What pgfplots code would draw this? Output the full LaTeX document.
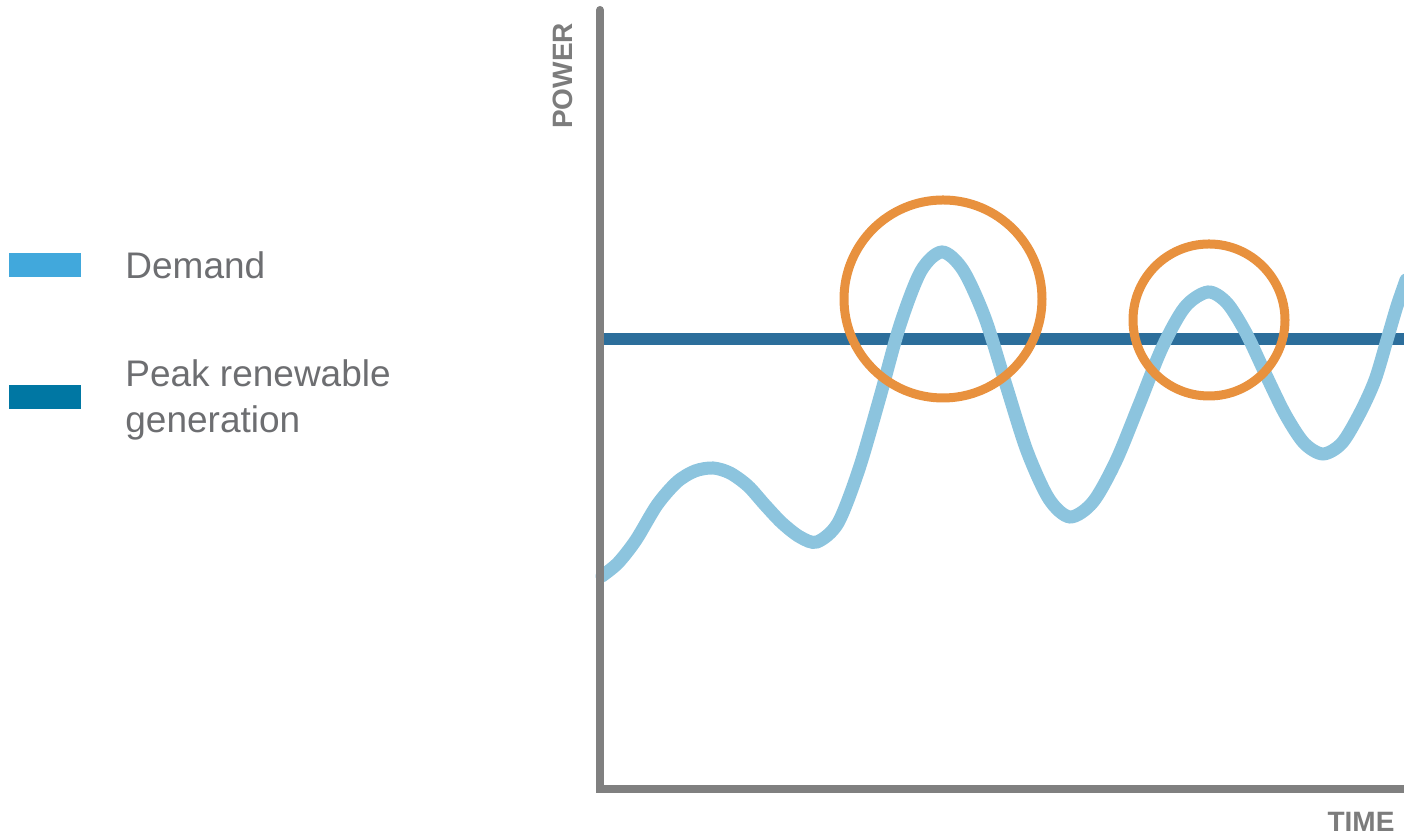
\documentclass[border=0pt]{standalone}
\usepackage{pgfplots}
\pgfplotsset{compat=1.18}
\usepackage{fontspec}
\setmainfont{Liberation Sans}

\definecolor{demandline}{HTML}{8CC4DE}
\definecolor{peakline}{HTML}{2C6E9B}
\definecolor{ringorange}{HTML}{E8913E}
\definecolor{axisgray}{HTML}{808080}
\definecolor{keylight}{HTML}{41A8DC}
\definecolor{keydark}{HTML}{0077A3}
\definecolor{textgray}{HTML}{6D6E71}
\definecolor{labelgray}{HTML}{7C7C7C}

\begin{document}
\begin{tikzpicture}
\begin{axis}[
    scale only axis,
    width=702pt,
    height=419pt,
    xmin=0, xmax=1404,
    ymin=0, ymax=838,
    hide axis,
]

% Peak renewable generation (flat)
\addplot[peakline, line width=6pt, no marks] coordinates {(604,499) (1404,499)};

% Demand
\addplot[demandline, line width=6.5pt, no marks, smooth, tension=0.5, line cap=round] coordinates {
    (602,262) (618,275) (636,298) (657,333) (677,356) (695,367) (713,370)
    (730,365) (748,352) (765,333) (782,315) (800,301) (817,296)
    (838,315) (859,369) (880,441) (900,513) (921,567) (942,586)
    (963,568) (985,520) (1006,453) (1027,387) (1049,339) (1070,321)
    (1093,336) (1116,377) (1139,433) (1162,490) (1185,531) (1208,546)
    (1227,535) (1246,505) (1265,465) (1285,424) (1304,395) (1323,384)
    (1342,395) (1360,425) (1375,458) (1387,498) (1397,532) (1406,558)
};

% Peaks above generation
\addplot[only marks, mark=o, mark size=49.5pt,
    mark options={draw=ringorange, line width=4.5pt}] coordinates {(943,539)};
\addplot[only marks, mark=o, mark size=38pt,
    mark options={draw=ringorange, line width=4.5pt}] coordinates {(1209,518)};

% Axis lines
\addplot[axisgray, line width=4pt, no marks, line cap=round, line join=miter]
    coordinates {(600,828) (600,49) (1420,49)};

\node[rotate=90, text=labelgray, font=\fontsize{14}{16}\bfseries\selectfont]
    at (563,762) {POWER};
\node[text=labelgray, font=\fontsize{14}{16}\bfseries\selectfont]
    at (1361,16) {TIME};

% Key
\fill[keylight] (axis cs:9,561) rectangle (axis cs:81,585);
\fill[keydark] (axis cs:9,429) rectangle (axis cs:81,453);
\node[anchor=base west, inner sep=0pt, text=textgray, font=\fontsize{18.5}{23}\selectfont]
    at (125,559) {Demand};
\node[anchor=base west, inner sep=0pt, text=textgray, font=\fontsize{18.5}{23}\selectfont]
    at (125,451) {Peak renewable};
\node[anchor=base west, inner sep=0pt, text=textgray, font=\fontsize{18.5}{23}\selectfont]
    at (125,405) {generation};

\coordinate (ll) at (axis cs:0,0);
\coordinate (ur) at (axis cs:1404,838);
\end{axis}
\pgfresetboundingbox
\path[use as bounding box] (ll) rectangle (ur);
\end{tikzpicture}
\end{document}
